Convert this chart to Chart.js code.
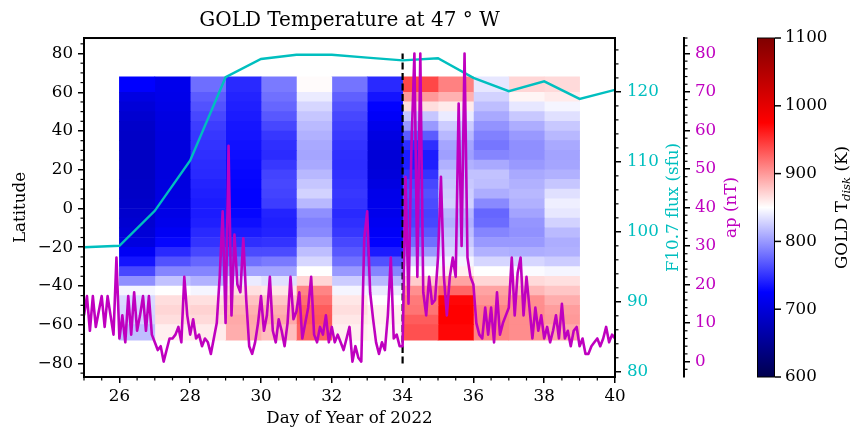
<!DOCTYPE html>
<html>
<head>
<meta charset="utf-8">
<script src="https://cdn.jsdelivr.net/npm/chart.js@4.4.0/dist/chart.umd.min.js"></script>
<style>
  html, body { margin: 0; padding: 0; background: #fff; }
</style>
</head>
<body>
<canvas id="gold" width="854" height="430"></canvas>
<script>
// start day of each temperature column (each column is one day wide)
const days = [26, 27, 28, 29, 30, 31, 32, 33, 34, 35, 36, 37, 38];
// latitude bin edges, north to south
const latEdges = [68, 60, 55, 50, 45, 40, 35, 30, 25, 20, 15, 10, 5, 0,
  -5, -10, -15, -20, -25, -30, -35, -40, -45, -50, -55, -60, -68];
// GOLD Tdisk (K), one list per day, rows from north to south
const tdisk = [
  [725,705,698,692,688,686,685,684,684,684,685,686,688,690,693,697,703,718,735,760,795,845,832,830,828,818],
  [712,710,708,705,703,702,702,701,701,702,703,704,706,708,712,718,728,745,765,790,820,850,866,870,866,858],
  [779,770,765,760,755,752,750,748,746,745,742,740,738,738,740,745,750,760,775,790,812,845,865,872,868,860],
  [745,742,740,738,736,735,733,732,730,728,727,726,726,728,732,738,748,762,780,805,840,865,880,888,892,890],
  [785,780,775,768,760,752,748,746,752,758,760,758,755,742,740,742,750,762,785,805,835,862,878,888,892,882],
  [852,840,830,822,816,812,808,806,808,815,822,828,815,795,788,792,805,818,830,850,870,910,920,930,932,928],
  [782,772,765,760,756,753,750,748,747,748,750,752,750,745,748,752,760,768,780,800,825,845,862,866,862,858],
  [745,735,726,720,712,705,700,697,697,700,705,710,712,712,716,720,726,738,765,790,815,840,850,858,858,855],
  [940,900,866,822,800,770,748,738,740,750,760,765,762,758,760,768,780,800,830,850,875,905,915,918,930,936],
  [912,888,860,840,825,815,806,803,812,820,823,826,828,815,812,818,824,832,845,858,895,925,972,975,975,972],
  [838,828,818,808,797,788,783,790,808,820,818,810,792,775,778,790,800,812,830,850,870,895,902,910,911,911],
  [870,855,838,823,810,800,795,795,800,808,812,815,812,805,798,796,800,810,830,848,868,885,905,906,906,906],
  [868,860,845,835,823,815,808,805,806,812,822,835,842,838,828,816,810,812,825,845,865,878,890,898,900,892]
];

// daily F10.7 (sfu)
const f107Days = [25, 26, 27, 28, 29, 30, 31, 32, 33, 34, 35, 36, 37, 38, 39, 40];
const f107 = [97.8, 98.0, 103.0, 110.2, 122.1, 124.7, 125.3, 125.3, 124.9, 124.5, 124.8, 122.0, 120.1, 121.5, 119.0, 120.3];

// ap (nT), 12 samples per day starting at day 25
const apStart = 25;
const apPerDay = 12;
const ap = [
  12,17,8,17,9,13,17,9,17,12,7,27,
  6,12,5,17,7,18,8,12,17,8,17,7,
  5,3,4,0,3,6,6,7,9,5,22,12,
  7,11,6,7,4,6,5,2,6,10,22,39,
  10,56,12,33,20,18,32,16,4,2,5,10,
  17,8,12,22,8,5,11,8,4,10,22,11,
  13,18,6,10,14,22,7,5,9,7,12,5,
  9,5,7,5,3,6,9,0,4,1,0,32,
  39,18,11,5,2,5,3,12,27,6,7,4,
  4,48,15,56,80,22,80,18,12,22,15,16,
  27,48,22,12,22,27,22,67,30,80,27,22,
  20,10,7,6,14,7,14,5,18,7,10,12,
  14,27,12,23,27,12,22,14,6,14,8,12,
  6,9,5,8,12,6,15,6,8,4,8,9,
  4,6,2,2,4,5,6,4,6,9,5,7,
  6
];

const stormDay = 34;
const dayTicks = [26, 28, 30, 32, 34, 36, 38, 40];
const latTicks = [-80, -60, -40, -20, 0, 20, 40, 60, 80];
const f107Ticks = [80, 90, 100, 110, 120];
const apTicks = [0, 10, 20, 30, 40, 50, 60, 70, 80];
const cbTicks = [600, 700, 800, 900, 1000, 1100];

const CYAN = '#00bfbf';
const MAGENTA = '#bf00bf';
const FONT = "'DejaVu Serif', serif";

// matplotlib "seismic"
const seismicStops = [[0, [0, 0, 76.5]], [0.25, [0, 0, 255]], [0.5, [255, 255, 255]], [0.75, [255, 0, 0]], [1, [127.5, 0, 0]]];
function seismic(T) {
  let t = (T - 600) / 500;
  t = Math.max(0, Math.min(1, t));
  for (let i = 1; i < seismicStops.length; i++) {
    const [t1, c1] = seismicStops[i];
    const [t0, c0] = seismicStops[i - 1];
    if (t <= t1) {
      const f = (t - t0) / (t1 - t0);
      const c = c0.map((v, k) => Math.round(v + (c1[k] - v) * f));
      return `rgb(${c[0]},${c[1]},${c[2]})`;
    }
  }
  return 'rgb(127,0,0)';
}

const heatSets = days.map((d, c) => ({
  type: 'bar',
  data: tdisk[c].map((T, r) => ({ x: d + 0.5, y: [latEdges[r + 1], latEdges[r]] })),
  backgroundColor: tdisk[c].map(seismic),
  borderWidth: 0,
  base: -90,          // keeps chart.js from nudging bars that start at 0
  grouped: false,
  barPercentage: 1,
  categoryPercentage: 1,
  xAxisID: 'x',
  yAxisID: 'lat',
  order: 3
}));

const fixTicks = list => sc => { sc.ticks = list.map(v => ({ value: v })); };
const minus = v => String(v).replace('-', '\u2212');

const grid = { drawOnChartArea: false, color: '#000', lineWidth: 1.5, tickLength: 6 };
const border = { display: true, color: '#000', width: 2 };

// minor ticks, frame, colorbar and right-hand axis titles
const extras = {
  id: 'extras',
  afterDraw(chart) {
    const ctx = chart.ctx, a = chart.chartArea, s = chart.scales;
    ctx.save();
    ctx.strokeStyle = '#000';
    ctx.lineWidth = 1.2;
    const minor = (scale, from, to, step, majors, draw) => {
      const n = Math.round((to - from) / step);
      for (let k = 0; k <= n; k++) {
        const v = from + k * step;
        if (majors.some(m => Math.abs(m - v) < 1e-6)) continue;
        const p = scale.getPixelForValue(v);
        ctx.beginPath();
        draw(p);
        ctx.stroke();
      }
    };
    minor(s.x, 25, 40, 0.5, dayTicks, p => { ctx.moveTo(p, a.bottom); ctx.lineTo(p, a.bottom + 3.5); });
    minor(s.lat, -85, 85, 5, latTicks, p => { ctx.moveTo(a.left, p); ctx.lineTo(a.left - 3.5, p); });
    minor(s.f107, 80, 126, 2, f107Ticks, p => { ctx.moveTo(a.right, p); ctx.lineTo(a.right + 3.5, p); });
    minor(s.ap, -2, 84, 2, apTicks, p => { ctx.moveTo(s.ap.left, p); ctx.lineTo(s.ap.left + 3.5, p); });

    // frame
    ctx.lineWidth = 2;
    ctx.strokeRect(a.left, a.top, a.right - a.left, a.bottom - a.top);

    // colorbar
    const cb = s.cb;
    const x0 = cb.left, w = 18;
    const yTop = cb.getPixelForValue(1100), yBot = cb.getPixelForValue(600);
    const g = ctx.createLinearGradient(0, yBot, 0, yTop);
    seismicStops.forEach(([t, c]) => g.addColorStop(t, `rgb(${c[0]},${c[1]},${c[2]})`));
    ctx.fillStyle = g;
    ctx.fillRect(x0, yTop, w, yBot - yTop);
    ctx.lineWidth = 1;
    ctx.strokeRect(x0 + 0.5, yTop, w - 1, yBot - yTop);
    ctx.lineWidth = 1.5;
    cbTicks.forEach(v => {
      const p = cb.getPixelForValue(v);
      ctx.beginPath();
      ctx.moveTo(x0 + w, p);
      ctx.lineTo(x0 + w + 6, p);
      ctx.stroke();
    });

    // rotated titles
    const midY = (a.top + a.bottom) / 2;
    const vtext = (x, color, parts) => {
      ctx.save();
      ctx.translate(x, midY);
      ctx.rotate(-Math.PI / 2);
      ctx.fillStyle = color;
      ctx.textBaseline = 'middle';
      ctx.textAlign = 'left';
      const fnt = p => `${p.italic ? 'italic ' : ''}${p.size}px ${FONT}`;
      let total = 0;
      parts.forEach(p => { ctx.font = fnt(p); total += ctx.measureText(p.t).width; });
      let cx = -total / 2;
      parts.forEach(p => {
        ctx.font = fnt(p);
        ctx.fillText(p.t, cx, p.dy || 0);
        cx += ctx.measureText(p.t).width;
      });
      ctx.restore();
    };
    vtext(s.f107.left + 59, CYAN, [{ t: 'F10.7 flux (sfu)', size: 16.7 }]);
    vtext(s.ap.left + 48, MAGENTA, [{ t: 'ap (nT)', size: 16.7 }]);
    vtext(cb.left + 86, '#000', [
      { t: 'GOLD T', size: 16.7 },
      { t: 'disk', size: 11.7, dy: 4, italic: true },
      { t: ' (K)', size: 16.7 }
    ]);
    ctx.restore();
  }
};

Chart.defaults.font.family = FONT;
Chart.defaults.font.size = 16.7;
Chart.defaults.color = '#000';

new Chart(document.getElementById('gold'), {
  type: 'bar',
  data: {
    datasets: [
      {
        type: 'line',
        data: ap.map((v, i) => ({ x: apStart + i / apPerDay, y: v })),
        borderColor: MAGENTA,
        borderWidth: 2.6,
        borderJoinStyle: 'round',
        pointRadius: 0,
        tension: 0,
        xAxisID: 'x',
        yAxisID: 'ap',
        order: 0
      },
      {
        type: 'line',
        data: f107Days.map((d, i) => ({ x: d, y: f107[i] })),
        borderColor: CYAN,
        borderWidth: 2.4,
        pointRadius: 0,
        tension: 0,
        xAxisID: 'x',
        yAxisID: 'f107',
        order: 1
      },
      {
        type: 'line',
        data: [{ x: stormDay, y: -80 }, { x: stormDay, y: 80 }],
        borderColor: '#000',
        borderWidth: 2.2,
        borderDash: [7, 3.5],
        pointRadius: 0,
        xAxisID: 'x',
        yAxisID: 'lat',
        order: 2
      },
      ...heatSets
    ]
  },
  options: {
    responsive: false,
    animation: false,
    events: [],
    layout: { padding: 0 },
    plugins: {
      legend: { display: false },
      tooltip: { enabled: false },
      title: {
        display: true,
        text: 'GOLD Temperature at 47 ° W',
        fullSize: false,
        color: '#000',
        font: { size: 20, weight: 'normal' },
        padding: { top: 7, bottom: 5 }
      }
    },
    scales: {
      x: {
        type: 'linear',
        position: 'bottom',
        min: 25,
        max: 40,
        offset: false,
        afterBuildTicks: fixTicks(dayTicks),
        afterFit: sc => { sc.height = 53; },
        ticks: { autoSkip: false, maxRotation: 0, padding: 4, color: '#000' },
        grid: { ...grid, offset: false },
        border,
        title: { display: true, text: 'Day of Year of 2022', padding: { top: 0, bottom: 1 } }
      },
      lat: {
        type: 'linear',
        position: 'left',
        min: -87,
        max: 88,
        afterBuildTicks: fixTicks(latTicks),
        afterFit: sc => { sc.width = 84; },
        ticks: { autoSkip: false, padding: 5, color: '#000', callback: v => minus(v) },
        grid,
        border,
        title: { display: true, text: 'Latitude', padding: { top: 11, bottom: 0 } }
      },
      f107: {
        type: 'linear',
        position: 'right',
        weight: 1,
        min: 79.25,
        max: 127.7,
        afterBuildTicks: fixTicks(f107Ticks),
        afterFit: sc => { sc.width = 69; },
        ticks: { autoSkip: false, padding: 6, color: CYAN },
        grid,
        border
      },
      ap: {
        type: 'linear',
        position: 'right',
        weight: 2,
        min: -4,
        max: 84,
        afterBuildTicks: fixTicks(apTicks),
        afterFit: sc => { sc.width = 73; },
        ticks: { autoSkip: false, padding: 5, color: MAGENTA },
        grid,
        border
      },
      cb: {
        type: 'linear',
        position: 'right',
        weight: 3,
        min: 600,
        max: 1100,
        afterBuildTicks: fixTicks(cbTicks),
        afterFit: sc => { sc.width = 97; },
        ticks: { autoSkip: false, padding: 28, color: '#000', callback: v => String(v) },
        grid: { display: false, drawTicks: false },
        border: { display: false }
      }
    }
  },
  plugins: [extras]
});
</script>
</body>
</html>
